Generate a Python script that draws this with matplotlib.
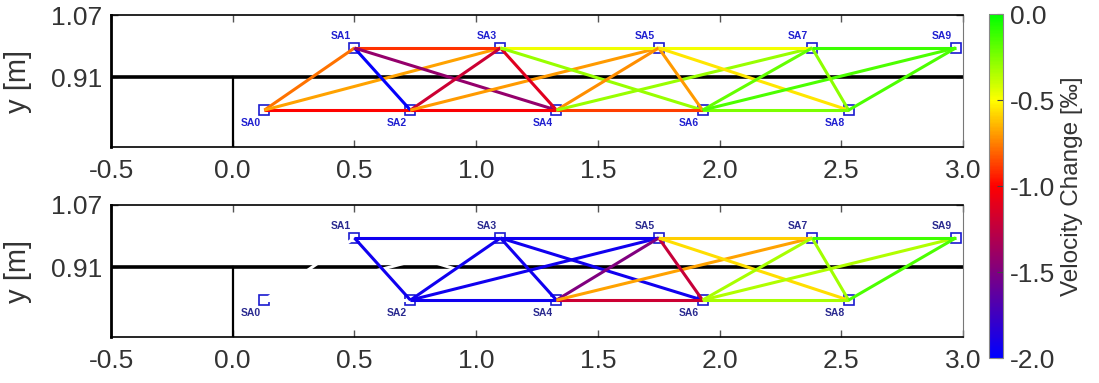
import numpy as np
import matplotlib
matplotlib.use("Agg")
import matplotlib.pyplot as plt
from matplotlib.colors import LinearSegmentedColormap, Normalize
from matplotlib.collections import LineCollection

plt.rcParams['font.family'] = ['Liberation Sans', 'DejaVu Sans']

# Sensor (actuator) positions along the specimen
station_names = ["SA0", "SA1", "SA2", "SA3", "SA4", "SA5", "SA6", "SA7", "SA8", "SA9"]
station_x = [0.13, 0.50, 0.73, 1.10, 1.33, 1.75, 1.93, 2.38, 2.53, 2.97]
station_y = [0.825, 0.985, 0.825, 0.985, 0.825, 0.985, 0.825, 0.985, 0.825, 0.985]

# Ray paths between station pairs
ray_pairs = [(0, 1), (0, 2), (0, 3), (1, 2), (1, 3), (1, 4), (2, 3), (2, 4), (2, 5),
             (3, 4), (3, 5), (3, 6), (4, 5), (4, 6), (4, 7), (5, 6), (5, 7), (5, 8),
             (6, 7), (6, 8), (6, 9), (7, 8), (7, 9), (8, 9)]

# Velocity change per ray [permil]; NaN = no valid measurement
dv_stage_a = [-0.78, -1.00, -0.68, -1.98, -0.90, -1.42, -1.20, -1.02, -0.70,
              -1.12, -0.47, -0.30, -0.72, -0.88, -0.30, -0.70, -0.48, -0.55,
              -0.20, -0.25, -0.15, -0.28, -0.12, -0.15]
dv_stage_b = [np.nan, np.nan, np.nan, -1.93, -1.93, np.nan, -1.93, -1.93, -1.93,
              -1.93, -1.93, -1.93, -1.50, -1.20, -0.68, -1.22, -0.60, -0.57,
              -0.33, -0.33, -0.35, -0.32, -0.13, -0.15]

x_ticks = [-0.5, 0.0, 0.5, 1.0, 1.5, 2.0, 2.5, 3.0]
y_ticks = [0.91, 1.07]
cbar_ticks = [-2.0, -1.5, -1.0, -0.5, 0.0]
beam_level = 0.91

cmap = LinearSegmentedColormap.from_list(
    "dv", [(0.0, "#0000ff"), (0.5, "#ff0000"), (0.75, "#ffff00"), (1.0, "#00ff00")])
norm = Normalize(vmin=-2.0, vmax=0.0)

W, H = 1099, 383
fig = plt.figure(figsize=(W / 100, H / 100), dpi=100)

ax_left = 111 / W
ax_w = (963 - 111) / W
ax_h = 132 / H
axes = [fig.add_axes([ax_left, 1 - 147 / H, ax_w, ax_h]),
        fig.add_axes([ax_left, 1 - 337 / H, ax_w, ax_h])]

text_col = "#333333"
label_cols = ["#2020d0", "#2a2a90"]

for ax, dv, lab_col in zip(axes, [dv_stage_a, dv_stage_b], label_cols):
    ax.set_xlim(-0.5, 3.0)
    ax.set_ylim(0.73, 1.07)

    # Outline of the structure
    ax.axhline(beam_level, color="black", lw=2.6, zorder=2)
    ax.plot([0, 0], [0.73, beam_level], color="black", lw=1.6, zorder=2)

    segs_ok, vals_ok, segs_nan = [], [], []
    for (i, j), v in zip(ray_pairs, dv):
        seg = [(station_x[i], station_y[i]), (station_x[j], station_y[j])]
        if np.isnan(v):
            segs_nan.append(seg)
        else:
            segs_ok.append(seg)
            vals_ok.append(v)

    ax.plot(station_x, station_y, ls="none", marker="s", ms=6.5, mfc="none",
            mec="#1a1ad0", mew=1.2, zorder=2.4)

    if segs_nan:
        ax.add_collection(LineCollection(segs_nan, colors="white", linewidths=2.2,
                                         zorder=2.5))
    lc = LineCollection(segs_ok, cmap=cmap, norm=norm, linewidths=2.2, zorder=3)
    lc.set_array(np.array(vals_ok))
    ax.add_collection(lc)

    for name, x, y in zip(station_names, station_x, station_y):
        dy = 8.5 if y > beam_level else -9.5
        ax.annotate(name, (x, y), xytext=(-10, dy), textcoords="offset points",
                    ha="center", va="center", fontsize=7.5, fontweight="bold",
                    color=lab_col)

    ax.set_xticks(x_ticks)
    ax.set_xticklabels([f"{t:.1f}" for t in x_ticks])
    ax.set_yticks(y_ticks)
    ax.set_yticklabels([f"{t:.2f}" for t in y_ticks])
    ax.tick_params(axis="both", direction="in", length=5, width=1, color="#555555",
                   labelsize=19, labelcolor=text_col, top=True, right=True)
    ax.tick_params(axis="x", pad=9)
    ax.tick_params(axis="y", pad=6)
    for side, sp in ax.spines.items():
        sp.set_color("black")
        sp.set_linewidth(1.2)
    ax.spines["left"].set_linewidth(2.0)
    ax.spines["right"].set_color("#777777")
    ax.spines["right"].set_linewidth(0.8)

    ax.set_ylabel("y [m]", fontsize=21, color=text_col)
    ax.yaxis.set_label_coords(-0.093, 0.5)

cax = fig.add_axes([989 / W, 1 - 358 / H, 14 / W, 344 / H])
sm = plt.cm.ScalarMappable(cmap=cmap, norm=norm)
cb = fig.colorbar(sm, cax=cax, ticks=cbar_ticks)
cb.ax.set_yticklabels([f"{t:.1f}" for t in cbar_ticks])
cb.ax.tick_params(direction="in", length=4, width=0.8, color="#444444",
                  labelsize=19, labelcolor=text_col, pad=5)
cb.outline.set_edgecolor("#888888")
cb.outline.set_linewidth(0.8)
cb.set_label("Velocity Change [‰]", fontsize=17.5, color=text_col, labelpad=4)

fig.savefig("out.png", dpi=100)
